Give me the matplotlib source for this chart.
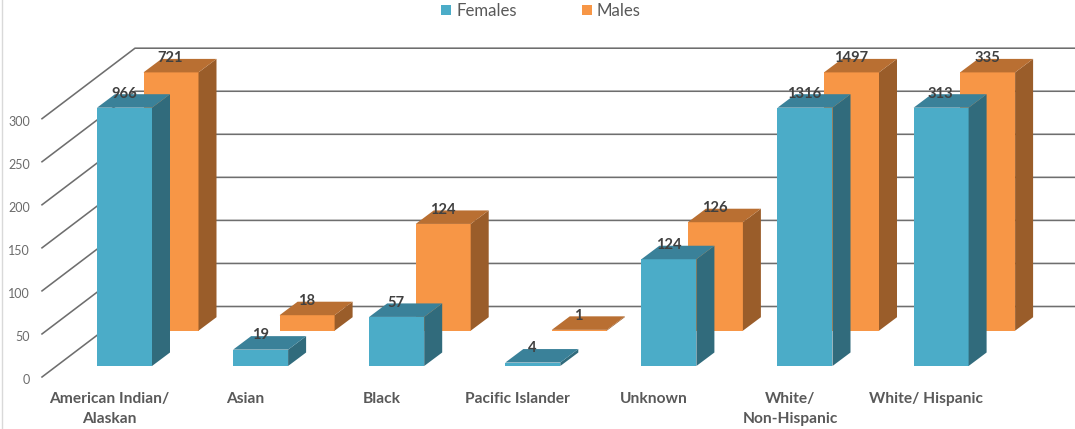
import matplotlib
matplotlib.use("Agg")
import matplotlib.pyplot as plt
from matplotlib.lines import Line2D
from matplotlib.patches import Patch
from matplotlib.transforms import ScaledTranslation

categories = ["American Indian/\nAlaskan", "Asian", "Black", "Pacific Islander",
              "Unknown", "White/\nNon-Hispanic", "White/ Hispanic"]
females = [966, 19, 57, 4, 124, 1316, 313]
males = [721, 18, 124, 1, 126, 1497, 335]
value_ticks = [0, 50, 100, 150, 200, 250, 300]
axis_ceiling = 300

W, H = 1075, 429
FONT = "Lato"
TEXT = "#595959"

fig = plt.figure(figsize=(W / 100, H / 100), dpi=100, facecolor="white")

# The axes frame is the front edge of the value axis, in pixels.
LEFT, RIGHT, TOP, BOTTOM = 42, W, 118.7, 377
ax = fig.add_axes([LEFT / W, 1 - BOTTOM / H, (RIGHT - LEFT) / W, (BOTTOM - TOP) / H])
PITCH = 136.1
FIRST_TICK = 109.5
ax.set_xlim((LEFT - FIRST_TICK) / PITCH, (RIGHT - FIRST_TICK) / PITCH)
ax.set_ylim(0, axis_ceiling)
ax.patch.set_alpha(0)
for spine in ax.spines.values():
    spine.set_visible(False)

px_x = 1 / PITCH
px_y = axis_ceiling / (BOTTOM - TOP)


def dx(px):
    return px * px_x


def dy(px):
    return px * px_y


# Side wall and back wall gridlines of the oblique projection
WALL_DX, WALL_DY = dx(93), dy(70.5)
x_front = ax.get_xlim()[0]
x_end = ax.get_xlim()[1]
for v in value_ticks:
    ax.plot([x_front, x_front + WALL_DX, x_end], [v, v + WALL_DY, v + WALL_DY],
            color="#6e6e6e", lw=1.15, clip_on=False, zorder=1, solid_joinstyle="miter")

BAR_W = dx(55)
DEPTH_X, DEPTH_Y = dx(18), dy(13.5)


def draw_series(values, offset_x, offset_y, front, side, top, z):
    for i, value in enumerate(values):
        h = min(value, axis_ceiling)
        x0 = i + offset_x
        x1 = x0 + BAR_W
        y0 = offset_y
        y1 = y0 + h
        ax.bar(x0, h, width=BAR_W, bottom=y0, align="edge", color=front,
               clip_on=False, zorder=z, linewidth=0)
        ax.fill([x1, x1 + DEPTH_X, x1 + DEPTH_X, x1],
                [y0, y0 + DEPTH_Y, y1 + DEPTH_Y, y1],
                color=side, clip_on=False, zorder=z, linewidth=0)
        ax.fill([x0, x0 + DEPTH_X, x1 + DEPTH_X, x1],
                [y1, y1 + DEPTH_Y, y1 + DEPTH_Y, y1],
                color=top, clip_on=False, zorder=z, linewidth=0)
        ax.annotate(str(value), (x0 + BAR_W / 2, y1), xytext=(-0.4, 14.2 * 0.72),
                    textcoords="offset points", ha="center", va="center",
                    fontsize=10.6, fontweight="bold", family=FONT, color="#404040",
                    zorder=z + 5, annotation_clip=False)


FRONT_ROW_X, FRONT_ROW_Y = dx(97 - FIRST_TICK), dy(BOTTOM - 366)
BACK_ROW_X, BACK_ROW_Y = dx(143.5 - FIRST_TICK), dy(BOTTOM - 330.7)
draw_series(males, BACK_ROW_X, BACK_ROW_Y, "#F79646", "#9A5D2A", "#B96F32", 3)
draw_series(females, FRONT_ROW_X, FRONT_ROW_Y, "#4BACC8", "#316B7C", "#3A8199", 6)

ax.set_yticks(value_ticks)
ax.set_xticks(range(len(categories)))
ax.set_xticklabels(categories, family=FONT, fontweight="bold", fontsize=11.2,
                   color=TEXT, linespacing=1.5)
ax.set_yticklabels([str(v) for v in value_ticks], family=FONT, fontsize=9, color="#6b6b6b")
ax.tick_params(axis="y", length=0, pad=8.6)
ax.tick_params(axis="x", length=0, pad=11)

# Nudge the value labels down a little from their gridline starts
nudge = ScaledTranslation(0, -1.5 / 72, fig.dpi_scale_trans)
for label in ax.get_yticklabels():
    label.set_transform(label.get_transform() + nudge)

handles = [Patch(facecolor="#4BACC8", label="Females"), Patch(facecolor="#F79646", label="Males")]
fig.legend(handles=handles, ncol=2, frameon=False, loc="center",
           bbox_to_anchor=(541 / W, 1 - 11 / H), prop={"family": FONT, "size": 12.1},
           labelcolor=TEXT, handlelength=0.6, handleheight=0.6, handletextpad=0.3,
           columnspacing=3.85, borderpad=0, borderaxespad=0)

fig.add_artist(Line2D([1.5 / W, 1.5 / W], [0, 1], color="#d9d9d9", lw=1, transform=fig.transFigure))

fig.savefig("out.png", dpi=100)
